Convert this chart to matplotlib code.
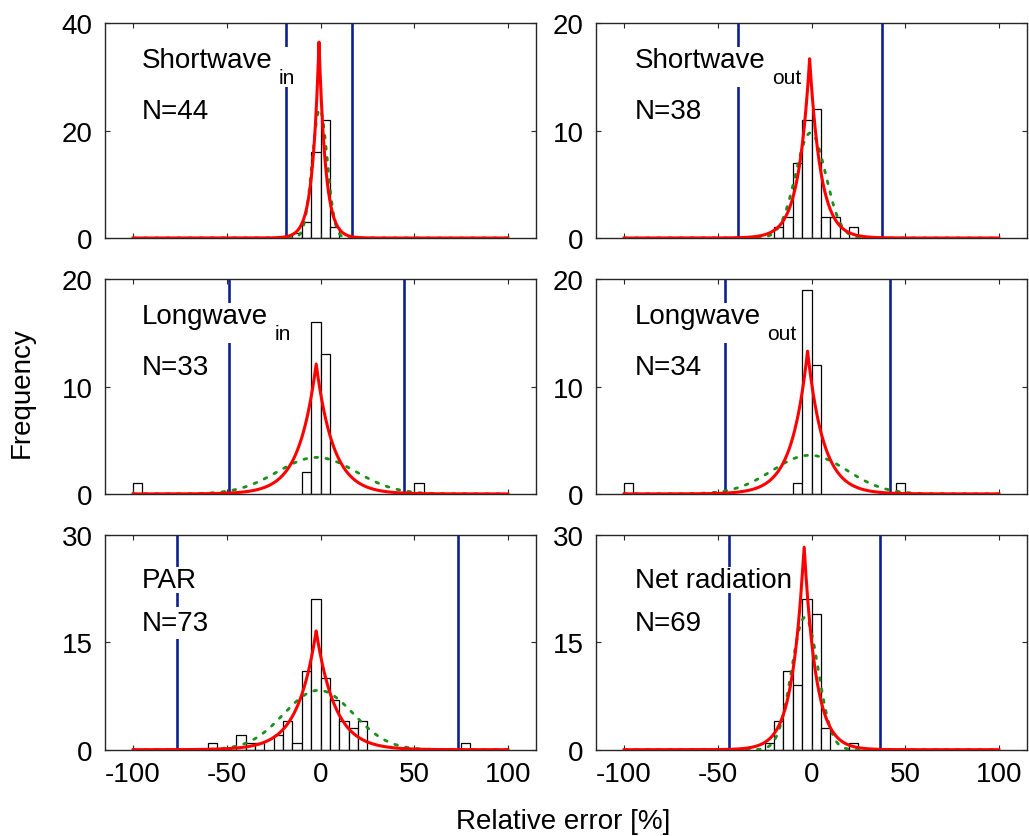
"""Relative error histograms of the six radiation components, with fitted curves."""

import matplotlib

matplotlib.use("Agg")
import matplotlib.pyplot as plt
import numpy as np
from matplotlib.patches import Rectangle
from matplotlib.transforms import Bbox

plt.rcParams["font.family"] = ["Liberation Sans", "DejaVu Sans"]
plt.rcParams["axes.unicode_minus"] = False

BIN_WIDTH = 5

# histogram bins (left edges, %) and counts, one pair per panel
sw_in_left = [-15, -10, -5, 0, 5]
sw_in_count = [1, 3, 16, 22, 2]
sw_out_left = [-20, -15, -10, -5, 0, 5, 10, 20]
sw_out_count = [1, 2, 7, 11, 12, 2, 2, 1]
lw_in_left = [-100, -10, -5, 0, 50]
lw_in_count = [1, 2, 16, 13, 1]
lw_out_left = [-100, -10, -5, 0, 45]
lw_out_count = [1, 1, 19, 12, 1]
par_left = [-60, -45, -40, -35, -25, -20, -15, -10, -5, 0, 5, 10, 15, 20, 75]
par_count = [1, 2, 1, 1, 2, 4, 1, 11, 21, 10, 7, 4, 3, 4, 1]
net_left = [-25, -20, -15, -10, -5, 0, 5, 20]
net_count = [1, 4, 11, 9, 21, 19, 3, 1]

labels = ["Shortwave", "Shortwave", "Longwave", "Longwave", "PAR", "Net radiation"]
subscripts = ["in", "out", "in", "out", "", ""]
n_obs = [44, 38, 33, 34, 73, 69]

# fitted curves: red (double exponential), green dotted (normal)
red_center = [-0.8, -1.0, -2.3, -2.1, -2.3, -3.9]
red_peak = [36.5, 16.7, 12.1, 13.3, 16.6, 28.3]
red_left_center = [-0.8, -1.0, -2.3, -2.1, -2.3, -5.7]
red_left_peak = [36.5, 16.7, 12.1, 13.3, 16.6, 21.6]
red_scale = [3.5, 6.0, 9.2, 8.5, 10.0, 6.3]
green_center = [-0.4, -0.5, -2.0, -1.0, -1.0, -3.5]
green_peak = [24.0, 9.8, 3.4, 3.6, 8.3, 18.5]
green_sigma = [4.0, 8.0, 21.0, 20.0, 18.5, 7.1]

# limits of agreement (vertical blue lines)
lower_limit = [-18.4, -39.1, -49.0, -46.2, -76.5, -43.9]
upper_limit = [17.0, 37.4, 44.6, 42.0, 73.2, 36.5]

y_max = [40, 20, 20, 20, 30, 30]
y_step = [20, 10, 10, 10, 15, 15]

hist_left = [sw_in_left, sw_out_left, lw_in_left, lw_out_left, par_left, net_left]
hist_count = [sw_in_count, sw_out_count, lw_in_count, lw_out_count, par_count, net_count]

BLUE = "#0d2290"
RED = "#ff0000"
GREEN = "#1a8f1a"
AXIS = "#262626"

W, H = 1029, 837
fig = plt.figure(figsize=(W / 100, H / 100), dpi=100)

col_x = [105 / W, 596 / W]
row_y = [598 / H, 342.1 / H, 86.3 / H]
ax_w, ax_h = 431 / W, 214.7 / H

grid = np.linspace(-100, 100, 801)
pairs = []
for i in range(6):
    ax = fig.add_axes([col_x[i % 2], row_y[i // 2], ax_w, ax_h])

    ax.bar(hist_left[i], hist_count[i], width=BIN_WIDTH, align="edge",
           facecolor="white", edgecolor="black", linewidth=0.9, zorder=1)

    for v in (lower_limit[i], upper_limit[i]):
        ax.axvline(v, color=BLUE, linewidth=1.9, zorder=2)

    xg = grid[grid < green_center[i]]
    xg = np.concatenate([xg, [green_center[i]], grid[grid > green_center[i]]])
    yg = green_peak[i] * np.exp(-0.5 * ((xg - green_center[i]) / green_sigma[i]) ** 2)
    ax.plot(xg, yg, color=GREEN, linewidth=2.0, linestyle=(0, (1, 3)),
            dash_capstyle="round", zorder=3)

    cl, cr, b = red_left_center[i], red_center[i], red_scale[i]
    xl = np.concatenate([grid[grid < cl], [cl]])
    xr = np.concatenate([[cr], grid[grid > cr]])
    yl = red_left_peak[i] * np.exp((xl - cl) / b)
    yr = red_peak[i] * np.exp(-(xr - cr) / b)
    ax.plot(np.concatenate([xl, xr]), np.concatenate([yl, yr]),
            color=RED, linewidth=2.2, zorder=3.5)

    ax.set_xlim(-115, 115)
    ax.set_ylim(0, y_max[i])
    ax.set_xticks([-100, -50, 0, 50, 100])
    ax.set_yticks(np.arange(0, y_max[i] + 1, y_step[i]))
    ax.tick_params(direction="in", top=True, right=True, length=3.5,
                   width=0.8, color=AXIS, labelsize=20)
    ax.tick_params(axis="x", pad=8)
    ax.tick_params(axis="y", pad=9)
    if i < 4:
        ax.tick_params(labelbottom=False)
    for s in ax.spines.values():
        s.set_color(AXIS)
        s.set_linewidth(1.0)

    ty = 0.795 if i < 4 else 0.757
    tx = 0.086 if i % 2 == 0 else 0.090
    main = ax.text(tx, ty, labels[i], transform=ax.transAxes, fontsize=20,
                   va="baseline", ha="left", zorder=4)
    parts = [main]
    if subscripts[i]:
        sub = ax.annotate(subscripts[i], xy=(1, 0), xycoords=main, xytext=(4.5, -7),
                          textcoords="offset points", fontsize=15,
                          va="baseline", ha="left", zorder=4)
        parts.append(sub)
    ax.text(tx, 0.557, f"N={n_obs[i]}", transform=ax.transAxes, fontsize=20,
            va="baseline", ha="left", zorder=4,
            bbox=dict(boxstyle="square,pad=0.1", facecolor="white", edgecolor="none"))
    pairs.append((ax, parts))

fig.text(22 / W, 1 - 393 / H, "Frequency", rotation=90, fontsize=20,
         ha="center", va="center")
fig.text(563 / W, 1 - 822 / H, "Relative error [%]", fontsize=20,
         ha="center", va="center")

# white backdrop behind each panel title (label + subscript together)
fig.canvas.draw()
renderer = fig.canvas.get_renderer()
for ax, parts in pairs:
    bb = Bbox.union([t.get_window_extent(renderer) for t in parts])
    bb = bb.expanded(1.0, 1.0).transformed(fig.transFigure.inverted())
    ax.add_patch(Rectangle((bb.x0, bb.y0), bb.width, bb.height,
                           transform=fig.transFigure, facecolor="white",
                           edgecolor="none", zorder=2.5, clip_on=False))

fig.savefig("out.png", dpi=100)
plt.close(fig)
